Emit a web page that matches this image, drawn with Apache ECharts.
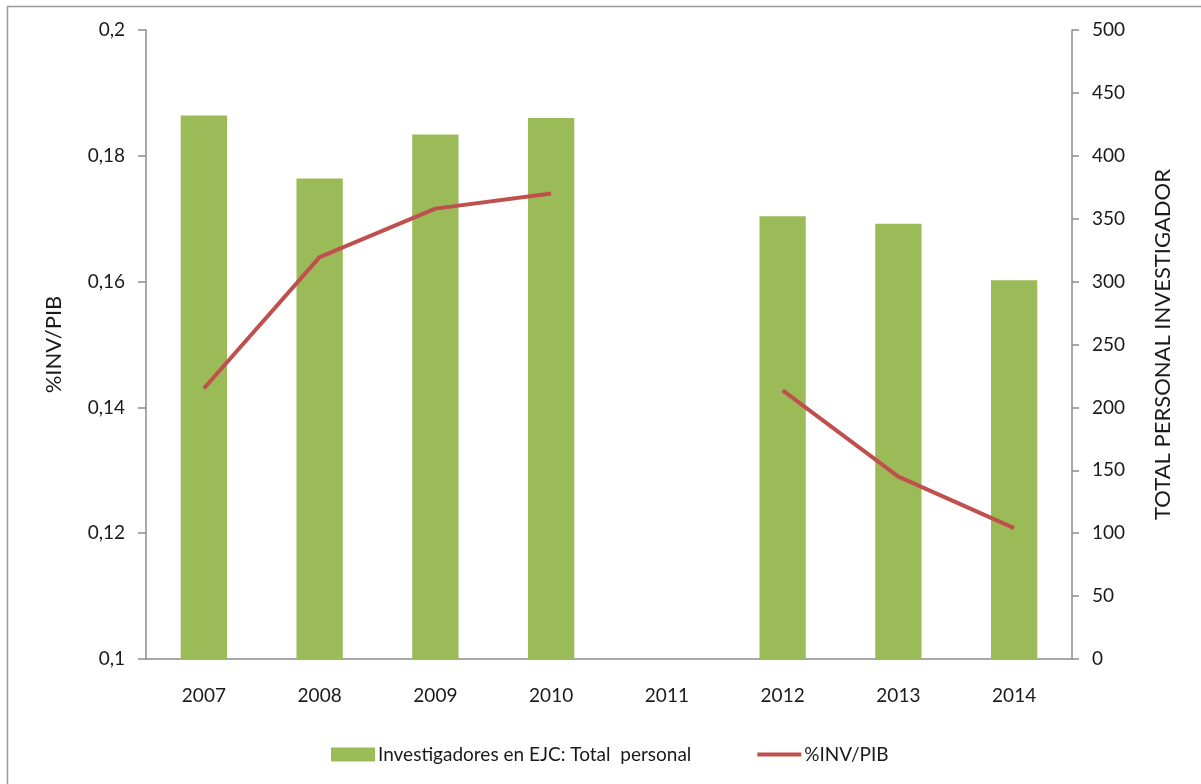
<!DOCTYPE html>
<html>
<head>
<meta charset="utf-8">
<script src="https://cdn.jsdelivr.net/npm/echarts@6/dist/echarts.min.js"></script>
<style>
  html, body { margin: 0; padding: 0; background: #fff; }
  #chart { width: 1201px; height: 784px; }
</style>
</head>
<body>
<div id="chart"></div>
<script>
// Years on the category axis
const years = ['2007', '2008', '2009', '2010', '2011', '2012', '2013', '2014'];
// Researchers in full-time equivalent (right axis)
const investigadores = [432, 382, 417, 430, null, 352, 346, 301];
// R&D spending as % of GDP (left axis)
const invPib = [0.1430, 0.1639, 0.1716, 0.1740, null, 0.1427, 0.1290, 0.1208];

const FONT = 'Lato, "Open Sans", sans-serif';
const TEXT = '#1a1a1a';
const AXIS = '#8c8c8c';

const chart = echarts.init(document.getElementById('chart'), null, { renderer: 'canvas' });

chart.setOption({
  animation: false,
  backgroundColor: '#fff',
  textStyle: { fontFamily: FONT, color: TEXT },
  graphic: [{
    type: 'rect',
    shape: { x: 7.5, y: 6.5, width: 1210, height: 800 },
    style: { fill: 'none', stroke: '#9a9a9a', lineWidth: 1.5 },
    silent: true
  }],
  grid: { left: 146, right: 129, top: 30, bottom: 125, containLabel: false },
  legend: {
    top: 740,
    left: 326,
    itemGap: 66,
    itemWidth: 44,
    itemHeight: 14,
    textStyle: { fontFamily: FONT, fontSize: 19, color: TEXT, padding: [0, 0, 0, -2] },
    data: [
      { name: 'Investigadores en EJC: Total  personal', icon: 'rect' },
      { name: '%INV/PIB', icon: 'path://M0,0 L46,0 L46,4 L0,4 Z' }
    ]
  },
  xAxis: {
    type: 'category',
    data: years,
    axisLine: { lineStyle: { color: AXIS, width: 1.5 } },
    axisTick: { alignWithLabel: false, length: 7, lineStyle: { color: AXIS, width: 1.5 } },
    axisLabel: { margin: 27, fontSize: 19, color: TEXT, fontFamily: FONT }
  },
  yAxis: [
    {
      type: 'value',
      min: 0.1, max: 0.2, interval: 0.02,
      position: 'left',
      name: '%INV/PIB',
      nameLocation: 'middle',
      nameGap: 81,
      nameRotate: 90,
      nameTextStyle: { fontSize: 22, color: TEXT, fontFamily: FONT },
      axisLine: { show: true, lineStyle: { color: AXIS, width: 1.5 } },
      axisTick: { show: true, length: 8, lineStyle: { color: AXIS, width: 1.5 } },
      splitLine: { show: false },
      axisLabel: {
        margin: 21, fontSize: 19, color: TEXT, fontFamily: FONT,
        formatter: v => String(Math.round(v * 100) / 100).replace('.', ',')
      }
    },
    {
      type: 'value',
      min: 0, max: 500, interval: 50,
      position: 'right',
      name: 'TOTAL PERSONAL INVESTIGADOR',
      nameLocation: 'middle',
      nameGap: 80,
      nameRotate: 90,
      nameTextStyle: { fontSize: 22, color: TEXT, fontFamily: FONT },
      axisLine: { show: true, lineStyle: { color: AXIS, width: 1.5 } },
      axisTick: { show: true, length: 7, lineStyle: { color: AXIS, width: 1.5 } },
      splitLine: { show: false },
      axisLabel: { margin: 20, fontSize: 19, color: TEXT, fontFamily: FONT }
    }
  ],
  series: [
    {
      name: 'Investigadores en EJC: Total  personal',
      type: 'bar',
      yAxisIndex: 1,
      data: investigadores,
      barCategoryGap: '60%',
      itemStyle: { color: '#9BBB59' }
    },
    {
      name: '%INV/PIB',
      type: 'line',
      yAxisIndex: 0,
      data: invPib,
      symbol: 'none',
      connectNulls: false,
      lineStyle: { color: '#C0504D', width: 4 },
      itemStyle: { color: '#C0504D' }
    }
  ]
});
</script>
</body>
</html>
